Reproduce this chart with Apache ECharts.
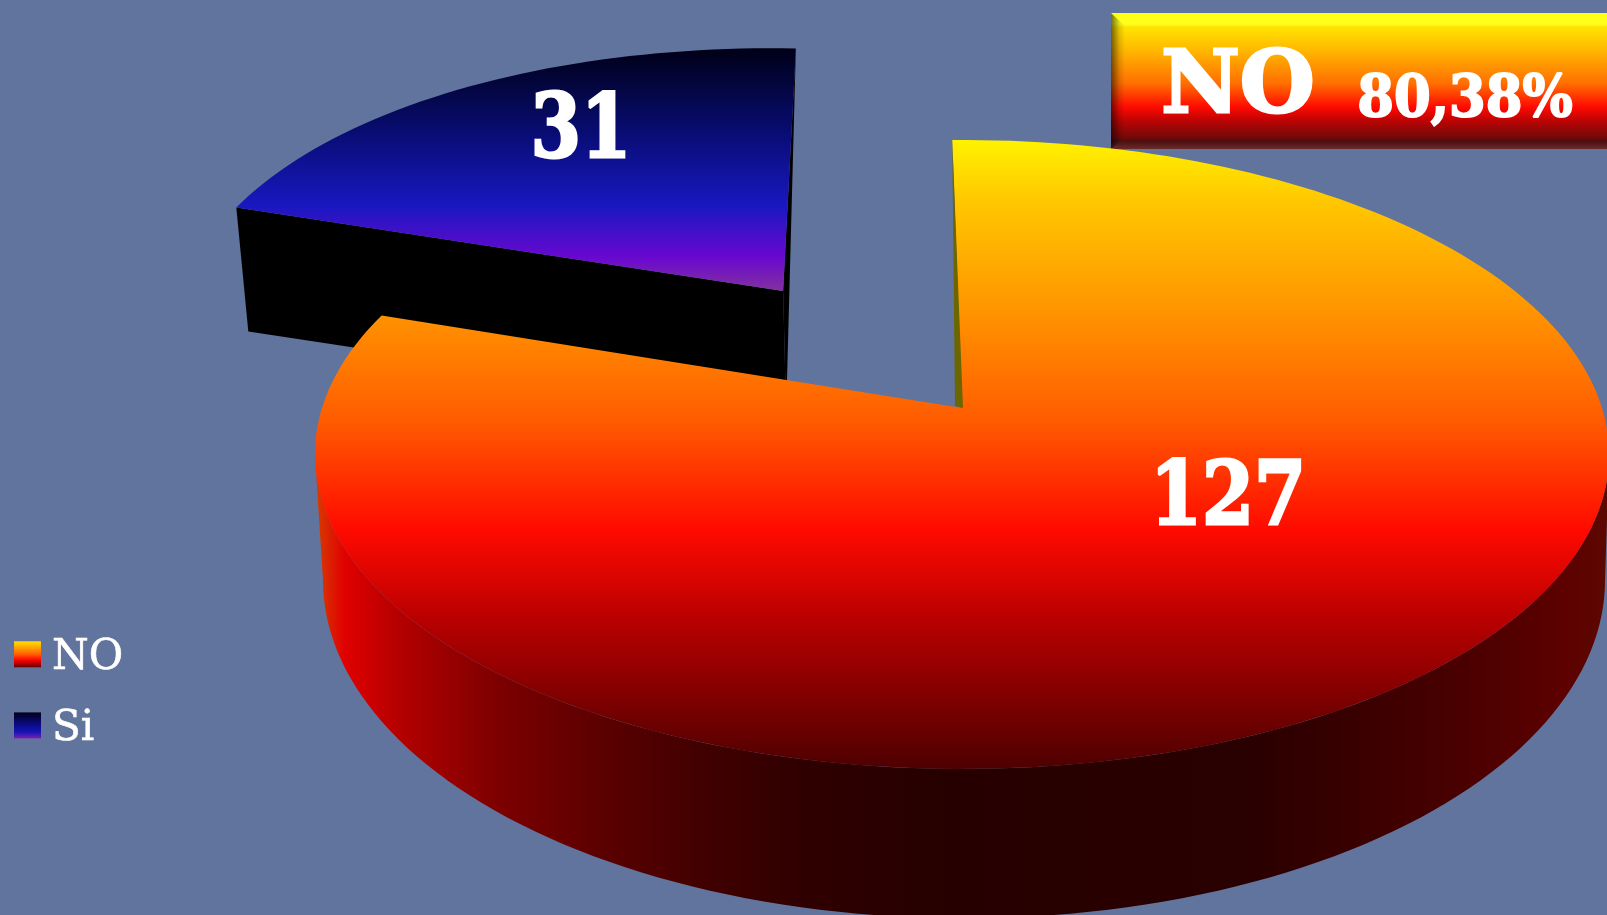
<!DOCTYPE html>
<html>
<head>
<meta charset="utf-8">
<title>NO / Si</title>
<script src="https://cdn.jsdelivr.net/npm/echarts@6/dist/echarts.min.js"></script>
<style>
  html, body { margin: 0; padding: 0; background: #61749d; overflow: hidden; }
  #chart { width: 1607px; height: 915px; }
</style>
</head>
<body>
<div id="chart"></div>
<script>
// Survey answers
const categories = ['NO', 'Si'];
const answers = [127, 31];
const total = answers.reduce((a, b) => a + b, 0);

// Perspective pie: unit disc seen from above, the far side shrunk by PERSPECTIVE
const PERSPECTIVE = 0.1477;
const TOP_DISC = { cx: 962, cy: 408, rx: 640, ry: 307.6 };
const BASE_DISC = { cx: 964, cy: 530, rx: 634, ry: 331 };
const START_DEG = -1;
const EXPLODE = 0.5;
const SERIF = 'DejaVu Serif';

function project(disc, x, y) {
  const w = 1 + PERSPECTIVE * y;
  return [disc.cx + disc.rx * x / w, disc.cy - disc.ry * y / w];
}
function rimPoint(deg, ox, oy, r) {
  const a = deg * Math.PI / 180;
  return [ox + r * Math.sin(a), oy + r * Math.cos(a)];
}
// Rim of a slice; radius(u) lets a slice swell slightly along its arc, u in 0..1
function arc(disc, from, to, ox, oy, radius) {
  const n = Math.max(2, Math.ceil(Math.abs(to - from) / 1.5));
  const pts = [];
  for (let i = 0; i <= n; i++) {
    const u = i / n;
    const p = rimPoint(from + (to - from) * u, ox, oy, radius ? radius(u) : 1);
    pts.push(project(disc, p[0], p[1]));
  }
  return pts;
}
function sweepOf(index) {
  let from = START_DEG;
  for (let i = 0; i < index; i++) from += 360 * answers[i] / total;
  return [from, from + 360 * answers[index] / total];
}

// Gradients addressed in page pixels
function vGrad(y0, y1, stops) {
  return new echarts.graphic.LinearGradient(0, y0, 0, y1,
    stops.map(s => ({ offset: (s[0] - y0) / (y1 - y0), color: s[1] })), true);
}
function hGrad(x0, x1, stops) {
  return new echarts.graphic.LinearGradient(x0, 0, x1, 0,
    stops.map(s => ({ offset: (s[0] - x0) / (x1 - x0), color: s[1] })), true);
}
const relGrad = stops => new echarts.graphic.LinearGradient(0, 0, 0, 1,
  stops.map(s => ({ offset: s[0], color: s[1] })));

const noFace = vGrad(140, 770, [
  [140, '#fff200'], [200, '#ffc800'], [320, '#ff9000'], [420, '#ff5c00'],
  [530, '#ff0a00'], [620, '#b80000'], [720, '#700000'], [770, '#4e0000']
]);
const noWall = hGrad(318, 1607, [
  [318, '#d83800'], [345, '#e00000'], [400, '#b40000'], [500, '#7c0000'],
  [600, '#5c0000'], [700, '#420000'], [800, '#300000'], [950, '#260000'],
  [1250, '#2a0000'], [1330, '#360000'], [1450, '#480000'], [1560, '#5c0000'], [1607, '#5c0800']
]);
const siFace = vGrad(48, 290, [
  [48, '#000016'], [130, '#080c70'], [205, '#1818c0'], [257, '#6808d0'], [290, '#8230a0']
]);

function heavyText(x, y, text, size, scaleX, weight) {
  return {
    type: 'text', x, y, scaleX, z2: 10,
    style: { text, fontFamily: SERIF, fontWeight: 'bold', fontSize: size,
      fill: '#fff', stroke: '#fff', lineWidth: weight, align: 'center', verticalAlign: 'middle' }
  };
}

function renderNo(params, api) {
  const [from, to] = sweepOf(0);
  // The wall runs between the two silhouette points of the disc
  const side = Math.acos(-PERSPECTIVE) * 180 / Math.PI;
  const wallFrom = Math.max(from, side), wallTo = Math.min(to, 360 - side);
  const rim = arc(TOP_DISC, wallFrom, wallTo, 0, 0);
  const base = arc(BASE_DISC, wallFrom, wallTo, 0, 0).reverse();
  const apex = project(TOP_DISC, 0, 0);
  const face = [apex].concat(arc(TOP_DISC, from, to, 0, 0));
  const startPt = face[1];
  return {
    type: 'group',
    children: [
      { type: 'polygon', shape: { points: rim.concat(base) }, style: { fill: noWall } },
      { type: 'polygon', shape: { points: [startPt, [apex[0] + 1, apex[1]], [apex[0] - 7, apex[1] - 2]] },
        style: { fill: '#6c6600' }, z2: 2 },
      { type: 'polygon', shape: { points: face }, style: { fill: noFace }, z2: 1 },
      heavyText(1228, 501, String(api.value(0)), 88, 0.85, 3)
    ]
  };
}

function renderSi(params, api) {
  const [from, to] = sweepOf(1);
  const mid = (from + to) / 2 * Math.PI / 180;
  const ox = EXPLODE * Math.sin(mid), oy = EXPLODE * Math.cos(mid);
  const swell = u => 1.01 + 0.025 * Math.sin(Math.PI * u);
  const apex = project(TOP_DISC, ox, oy);
  const face = [apex].concat(arc(TOP_DISC, from, to, ox, oy, swell));
  const corner = face[1], farCorner = face[face.length - 1];
  const apexFoot = [apex[0] + 3, apex[1] + 122];
  const cornerFoot = [corner[0] + 12, corner[1] + 124];
  return {
    type: 'group',
    children: [
      { type: 'polygon', shape: { points: [corner, cornerFoot, apexFoot, apex] }, style: { fill: '#000' } },
      { type: 'polygon', shape: { points: [farCorner, apexFoot, apex] }, style: { fill: '#000' } },
      { type: 'polygon', shape: { points: face }, style: { fill: siFace }, z2: 1 },
      heavyText(581, 134, String(api.value(0)), 88, 0.82, 3)
    ]
  };
}

const share = (answers[0] / total * 100).toFixed(2).replace('.', ',') + '%';

const bannerFill = vGrad(13, 149, [
  [13, '#ffff10'], [24, '#ffff20'], [27, '#ffe400'], [50, '#ffb800'], [83, '#ff7000'],
  [107, '#ff0a00'], [120, '#c00404'], [133, '#860808'], [139, '#6c0808'], [141, '#4a1010'], [149, '#6a2a2a']
]);

const chart = echarts.init(document.getElementById('chart'));
chart.setOption({
  backgroundColor: '#61749d',
  animation: false,
  legend: {
    orient: 'vertical',
    left: 14,
    top: 637,
    padding: 0,
    itemWidth: 27,
    itemHeight: 26,
    itemGap: 28.5,
    icon: 'rect',
    formatter: '{t|{name}}',
    textStyle: {
      rich: {
        t: { color: '#fff', fontFamily: SERIF, fontSize: 42, padding: [8, 0, 0, 6],
          textBorderColor: '#fff', textBorderWidth: 0.6 }
      }
    },
    data: [
      { name: categories[0], itemStyle: { color: relGrad([[0, '#ffe000'], [0.5, '#ff6000'], [0.72, '#ff0000'], [1, '#600000']]) } },
      { name: categories[1], itemStyle: { color: relGrad([[0, '#000018'], [0.35, '#08086c'], [0.75, '#1414b8'], [1, '#7a20b0']]) } }
    ]
  },
  series: [
    { type: 'custom', name: categories[1], coordinateSystem: 'none', z: 2,
      data: [{ name: categories[1], value: answers[1] }], renderItem: renderSi },
    { type: 'custom', name: categories[0], coordinateSystem: 'none', z: 3,
      data: [{ name: categories[0], value: answers[0] }], renderItem: renderNo }
  ],
  graphic: [
    {
      type: 'group', z: 20,
      children: [
        { type: 'rect', shape: { x: 1111, y: 13, width: 496, height: 136 }, style: { fill: bannerFill } },
        { type: 'polygon', z2: 1, shape: { points: [[1111, 13], [1125, 26], [1125, 137], [1111, 149]] },
          style: { fill: new echarts.graphic.LinearGradient(0, 0, 1, 0, [
            { offset: 0, color: 'rgba(0,0,0,0.55)' }, { offset: 0.6, color: 'rgba(0,0,0,0.12)' }, { offset: 1, color: 'rgba(0,0,0,0)' }
          ]) } },
        heavyText(1238, 90, categories[0], 86, 1.0, 3),
        heavyText(1465, 101, share, 58, 0.91, 2)
      ]
    }
  ]
});
</script>
</body>
</html>
